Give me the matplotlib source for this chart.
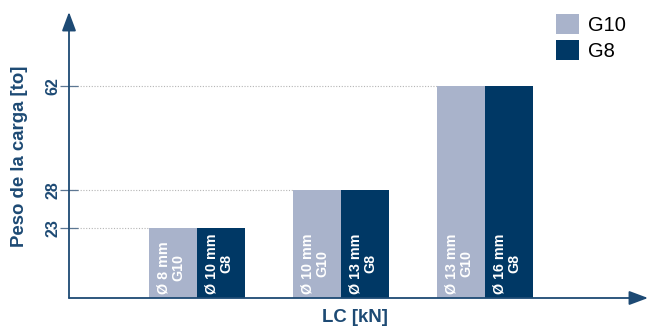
import numpy as np
import matplotlib
matplotlib.use("Agg")
import matplotlib.pyplot as plt
from matplotlib.patches import Patch
from matplotlib.transforms import offset_copy

plt.rcParams['font.family'] = ['Liberation Sans', 'DejaVu Sans']

# ---- data ----
groups = ["A", "B", "C"]
g10_values = [23, 28, 62]
g8_values = [23, 28, 62]
g10_labels = ["Ø 8 mm\nG10", "Ø 10 mm\nG10", "Ø 13 mm\nG10"]
g8_labels = ["Ø 10 mm\nG8", "Ø 13 mm\nG8", "Ø 16 mm\nG8"]
y_ticks = [23, 28, 62]
series_names = ["G10", "G8"]

# ---- style ----
LIGHT = "#a9b3cb"
DARK = "#003865"
AXC = "#1d4a74"

fig = plt.figure(figsize=(6.54, 3.27), dpi=100)
ax = fig.add_axes([69/654, (327-298)/327, 579/654, 286/327])

# schematic (non-linear) value axis, piecewise linear
kv = np.array([0, 23, 28, 62, 90])
kp = np.array([0, 70, 108, 212, 297.7])
fwd = lambda v: np.interp(v, kv, kp)
inv = lambda p: np.interp(p, kp, kv)
ax.set_yscale('function', functions=(fwd, inv))
ax.set_ylim(0, inv(286))

x = np.arange(len(groups))
w = 1/3
xl = -0.889
ax.set_xlim(xl, xl + 579/144)

ax.bar(x - w/2, g10_values, w, color=LIGHT, zorder=2)
ax.bar(x + w/2, g8_values, w, color=DARK, zorder=2)

# dotted guide lines
for i, v in enumerate(g10_values):
    ax.hlines(v, xl, x[i] - w, colors="#b5b5b5", linestyles=(0, (1, 1.5)), lw=0.8, zorder=1)

# bar labels
for i in range(len(groups)):
    for xpos, txt in ((x[i] - w/2, g10_labels[i]), (x[i] + w/2, g8_labels[i])):
        tr = offset_copy(ax.transData, fig=fig, x=-2, y=4, units='dots')
        ax.text(xpos, 0, txt, rotation=90, ha='center', va='bottom', color='white',
                fontweight='bold', fontsize=10.3, linespacing=1.05, transform=tr, zorder=3)

# axes
for s in ax.spines.values():
    s.set_visible(False)
ax.set_xticks([])
ax.set_yticks(y_ticks)
ax.tick_params(axis='y', direction='inout', length=13.5, width=0.9, color="#5d7793",
               labelleft=False)
ytr = offset_copy(ax.get_yaxis_transform(), fig=fig, x=-16, y=0, units='dots')
for t in y_ticks:
    ax.text(0, t, str(t), transform=ytr, rotation=90, rotation_mode='anchor',
            ha='center', va='center', fontweight='bold', fontsize=11.5, color=AXC,
            clip_on=False)

arrow = dict(arrowstyle='-|>,head_length=11.5,head_width=4.3', mutation_scale=1,
             color=AXC, lw=1.3, shrinkA=0, shrinkB=0)
ax.annotate('', xy=(0, 1), xytext=(0, 0), xycoords='axes fraction', arrowprops=arrow)
ax.annotate('', xy=(1, 0), xytext=(0, 0), xycoords='axes fraction', arrowprops=arrow)

fig.text(20/654, 1 - 156/327, "Peso de la carga [to]", rotation=90, ha='center', va='center',
         fontweight='bold', fontsize=13.4, color=AXC)
fig.text(355/654, 1 - 318/327, "LC [kN]", ha='center', va='center',
         fontweight='bold', fontsize=13.4, color=AXC)

handles = [Patch(facecolor=LIGHT), Patch(facecolor=DARK)]
fig.legend(handles, series_names, loc='upper left', bbox_to_anchor=(556/654, 1 - 14/327),
           frameon=False, fontsize=14.5, handlelength=1.15, handleheight=1.15,
           handletextpad=0.45, labelspacing=0.25, borderpad=0, borderaxespad=0)

fig.savefig("out.png", dpi=100)
